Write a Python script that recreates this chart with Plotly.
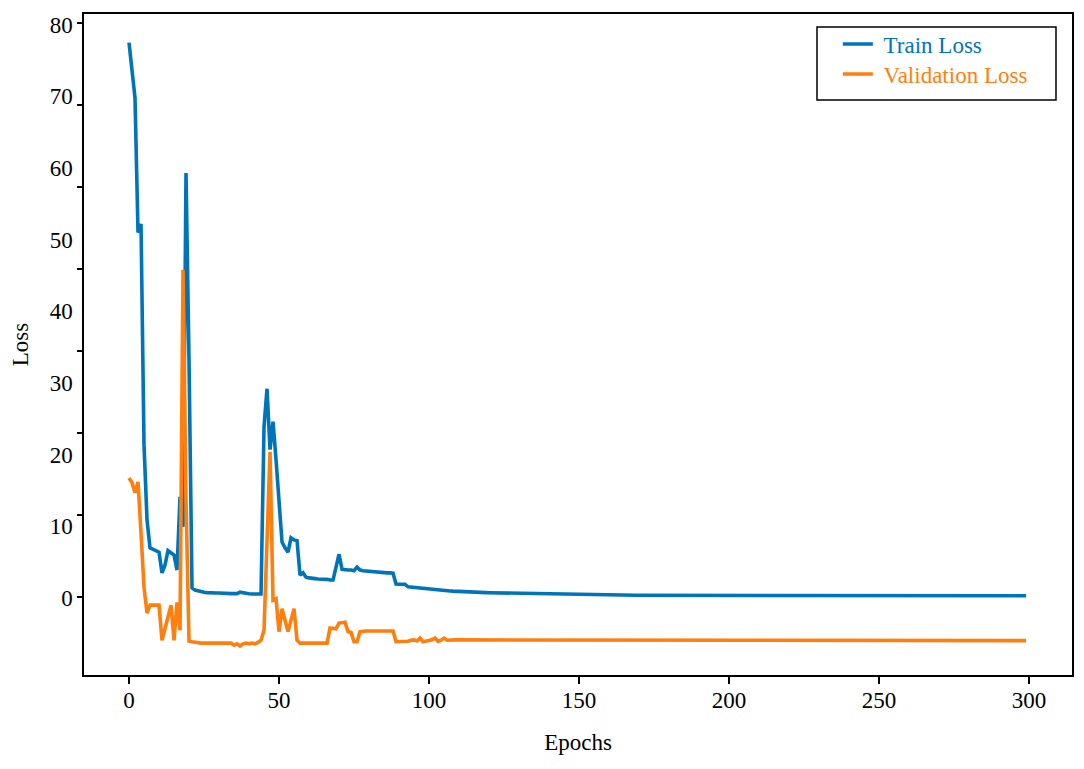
import plotly.graph_objects as go

# ---------------- data ----------------
epochs = list(range(300))

train_loss = (
    [77.5, 73.6, 69.8, 51.0, 52.2, 21.4, 10.9, 7.0, 6.8, 6.7, 6.4, 3.5, 4.6, 6.6, 6.3, 6.0,
     3.9, 14.1, 9.9, 59.3, 33.2, 1.4, 1.1, 1.0]
    + [0.8, 0.8, 0.75, 0.7, 0.7, 0.7, 0.7, 0.65, 0.65, 0.6, 0.6, 0.6, 0.6, 0.8, 0.7, 0.6,
       0.6, 0.55, 0.55, 0.6, 0.55]
    + [23.9, 29.2, 20.7, 24.6, 19.3, 13.7, 7.8, 7.0, 6.4, 8.4, 8.1, 8.0, 3.2, 3.5, 2.9, 2.8,
       2.8, 2.7, 2.65, 2.65, 2.7, 2.6, 2.5, 2.5]
    + [4.3, 6.1, 4.0, 3.9, 3.9, 3.9, 3.8, 4.3, 3.9, 3.8, 3.75, 3.75, 3.7, 3.6, 3.6, 3.55,
       3.55, 3.5, 3.5, 3.45]
    + [1.95, 1.95, 1.95, 1.9, 1.55, 1.5, 1.45, 1.4, 1.4, 1.4, 1.35, 1.3, 1.25, 1.2, 1.15, 1.1]
    + [1.05, 1.0, 0.98, 0.95, 0.92, 0.9, 0.88, 0.86, 0.84, 0.82, 0.8, 0.78, 0.76, 0.75, 0.74,
       0.73, 0.72, 0.71, 0.7, 0.69, 0.68, 0.67, 0.66, 0.65]
    + [0.64, 0.63, 0.62, 0.61, 0.6, 0.59, 0.58, 0.57, 0.56, 0.55, 0.54, 0.53, 0.52, 0.51,
       0.5, 0.49, 0.48, 0.47, 0.46, 0.45, 0.44, 0.43]
    + [0.42, 0.42, 0.41, 0.41, 0.41, 0.40, 0.40, 0.40, 0.40, 0.39,
       0.39, 0.39, 0.39, 0.38, 0.38, 0.38, 0.38, 0.38, 0.37, 0.37,
       0.37, 0.37, 0.37, 0.37, 0.36, 0.36, 0.36, 0.36, 0.36, 0.36,
       0.35, 0.35, 0.35, 0.35, 0.35, 0.35, 0.35, 0.35, 0.35, 0.35,
       0.35, 0.35, 0.35, 0.34, 0.34, 0.34, 0.34, 0.34, 0.34, 0.34,
       0.34, 0.34, 0.34, 0.33, 0.33, 0.33, 0.33, 0.33, 0.33, 0.33,
       0.33, 0.33, 0.33, 0.33, 0.33, 0.33, 0.33, 0.33, 0.33, 0.33,
       0.33, 0.33, 0.32, 0.32, 0.32, 0.32, 0.32, 0.32, 0.32, 0.32,
       0.32, 0.32, 0.32, 0.32, 0.32, 0.32, 0.32, 0.32, 0.32, 0.32,
       0.32, 0.32, 0.32, 0.32, 0.32, 0.32, 0.32, 0.32, 0.32, 0.32,
       0.32, 0.32, 0.31, 0.31, 0.31, 0.31, 0.31, 0.31, 0.31, 0.31,
       0.31, 0.31, 0.31, 0.31, 0.31, 0.31, 0.31, 0.31, 0.31, 0.31,
       0.31, 0.31, 0.31, 0.31, 0.31, 0.31, 0.31, 0.31, 0.31, 0.31,
       0.31, 0.31, 0.30, 0.30, 0.30, 0.30, 0.30, 0.30, 0.30, 0.30,
       0.30, 0.30, 0.30, 0.30, 0.30, 0.30, 0.30, 0.30, 0.30]
)

val_loss = (
    [16.75, 16.1, 14.7, 16.2, 9.1, 1.5, -2.1, -1.0, -1.0, -1.0, -1.0, -5.9, -4.1, -2.3,
     -1.0, -5.9, -0.6, -4.5, 45.8, 13.7, -6.0]
    + [-6.1, -6.2, -6.3, -6.3, -6.3, -6.3, -6.2, -6.2, -6.2, -6.2, -6.2, -6.2, -6.3, -6.3,
       -6.6, -6.4, -6.7, -6.4, -6.3, -6.4, -6.3, -6.4, -6.2]
    + [-5.9, -4.5, 7.7, 20.4, -0.3, -0.1, -4.7, -1.5, -3.1, -4.7, -3.1, -1.5, -5.9, -6.3,
       -6.3, -6.3]
    + [-6.2, -6.2, -6.2, -6.2, -6.2, -6.2, -6.3]
    + [-4.2, -4.3, -4.3, -3.5, -3.4, -3.4, -4.7, -4.8, -6.1, -6.1, -4.7, -4.6, -4.6, -4.6,
       -4.6, -4.6, -4.6, -4.6, -4.6, -4.6, -4.6, -4.6]
    + [-6.1, -6.1, -6.1, -6.1, -6.05, -5.9, -5.85, -6.0, -5.6, -6.1, -6.0, -5.95, -5.85,
       -5.6, -6.05, -5.9, -5.6, -5.9, -5.85]
    + [-5.85, -5.85, -5.85, -5.85, -5.85, -5.85, -5.85, -5.85, -5.85, -5.85, -5.85, -5.85,
       -5.85, -5.85, -5.85, -5.85, -5.85, -5.85, -5.9, -5.9, -5.9, -5.9, -5.9, -5.9,
       -5.9, -5.9, -5.9, -5.9, -5.9, -5.9, -5.9, -5.9, -5.9, -5.9, -5.9, -5.9,
       -5.9, -5.9, -5.9, -5.9, -5.9, -5.9, -5.9, -5.9, -5.9, -5.9, -5.9, -5.9,
       -5.9, -5.9, -5.9, -5.9, -5.9, -5.9, -5.9, -5.9, -5.9, -5.9, -5.9, -5.9,
       -5.9, -5.9, -5.9, -5.9, -5.9, -5.9, -5.9, -5.9, -5.9, -5.9, -5.9, -5.9,
       -5.9, -5.9, -5.9, -5.9, -5.9, -5.9, -5.9, -5.9, -5.9, -5.9, -5.9, -5.9,
       -5.9, -5.9, -5.9, -5.9, -5.9, -5.9, -5.9, -5.9, -5.9, -5.9, -5.9, -5.9,
       -5.9, -5.9, -5.9, -5.9, -5.9, -5.9, -5.9, -5.9, -5.9, -5.9, -5.9, -5.9,
       -5.95, -5.95, -5.95, -5.95, -5.95, -5.95, -5.95, -5.95, -5.95, -5.95, -5.95, -5.95,
       -5.95, -5.95, -5.95, -5.95, -5.95, -5.95, -5.95, -5.95, -5.95, -5.95, -5.95, -5.95,
       -5.95, -5.95, -5.95, -5.95, -5.95, -5.95, -5.95, -5.95, -5.95, -5.95, -5.95, -5.95,
       -5.95, -5.95, -5.95, -5.95, -5.95, -5.95, -5.95, -5.95, -5.95, -5.95, -5.95, -5.95,
       -5.95, -5.95, -5.95, -5.95, -5.95, -5.95, -5.95, -5.95, -5.95, -5.95, -5.95, -5.95,
       -5.95, -5.95, -5.95, -5.95, -5.95, -5.95, -5.95, -5.95, -5.95, -5.95, -5.95, -5.95,
       -5.95, -5.95, -5.95, -5.95, -5.95, -5.95, -5.95, -5.95, -5.95, -5.95, -5.95, -5.95]
)

y_tick_values = [0, 10, 20, 30, 40, 50, 60, 70, 80]
y_tick_labels = ["0", "10", "20", "30", "40", "50", "60", "70", "80"]
x_tick_values = [0, 50, 100, 150, 200, 250, 300]

# ---------------- style ----------------
BLUE = "#0074BA"
ORANGE = "#FF7F0E"
FONT = "Liberation Serif"
Y_RANGE = [-10.75, 81.5]
X_RANGE = [-15, 314.3]
TICK_MARKS = [0.14, 11.59, 23.04, 34.49, 45.94, 57.39, 68.84, 80.29]
LEG_X = 0.763

fig = go.Figure()
fig.add_trace(go.Scatter(
    x=epochs, y=train_loss, mode="lines",
    name=f"<span style='color:{BLUE}'>\u00a0Train Loss</span>",
    line=dict(color=BLUE, width=3.6), legend="legend",
))
fig.add_trace(go.Scatter(
    x=epochs, y=val_loss, mode="lines",
    name=f"<span style='color:{ORANGE}'>\u00a0Validation Loss</span>",
    line=dict(color=ORANGE, width=3.6), legend="legend2",
))
# helper trace so the tick-mark axis is drawn
fig.add_trace(go.Scatter(x=[None], y=[None], yaxis="y2", showlegend=False,
                         hoverinfo="skip", mode="lines"))

leg_common = dict(xanchor="left", yanchor="middle", borderwidth=0,
                  bgcolor="rgba(0,0,0,0)", font=dict(family=FONT, size=23))

fig.update_layout(
    width=1076, height=761,
    margin=dict(l=76, r=12, t=6, b=94),
    paper_bgcolor="white", plot_bgcolor="white",
    font=dict(family=FONT, size=23, color="black"),
    showlegend=True,
    legend=dict(x=LEG_X, y=0.9546, **leg_common),
    legend2=dict(x=LEG_X, y=0.9092, **leg_common),
    shapes=[dict(type="rect", xref="paper", yref="paper",
                 x0=0.7419, x1=0.9838, y0=0.8699, y1=0.9803,
                 line=dict(color="black", width=1.5), fillcolor="white",
                 layer="below")],
    xaxis=dict(
        range=X_RANGE, tickvals=x_tick_values, automargin=False,
        ticks="outside", ticklen=7, tickwidth=1.5, tickcolor="black",
        ticklabelstandoff=-3,
        showline=True, linecolor="black", linewidth=1.5, mirror=True,
        showgrid=False, zeroline=False,
        title=dict(text="Epochs", font=dict(size=23), standoff=22),
    ),
    yaxis=dict(
        range=Y_RANGE, tickvals=y_tick_values, ticktext=y_tick_labels,
        ticks="", ticklabelstandoff=5, automargin=False,
        showline=True, linecolor="black", linewidth=1.5, mirror=True,
        showgrid=False, zeroline=False,
        title=dict(text="Loss", font=dict(size=23), standoff=16),
    ),
    yaxis2=dict(
        overlaying="y", anchor="x", side="left", automargin=False,
        range=Y_RANGE, tickvals=TICK_MARKS,
        ticks="outside", ticklen=6, tickwidth=1.5, tickcolor="black",
        showticklabels=False, showline=False, showgrid=False, zeroline=False,
    ),
)

fig.write_html("out.html")
